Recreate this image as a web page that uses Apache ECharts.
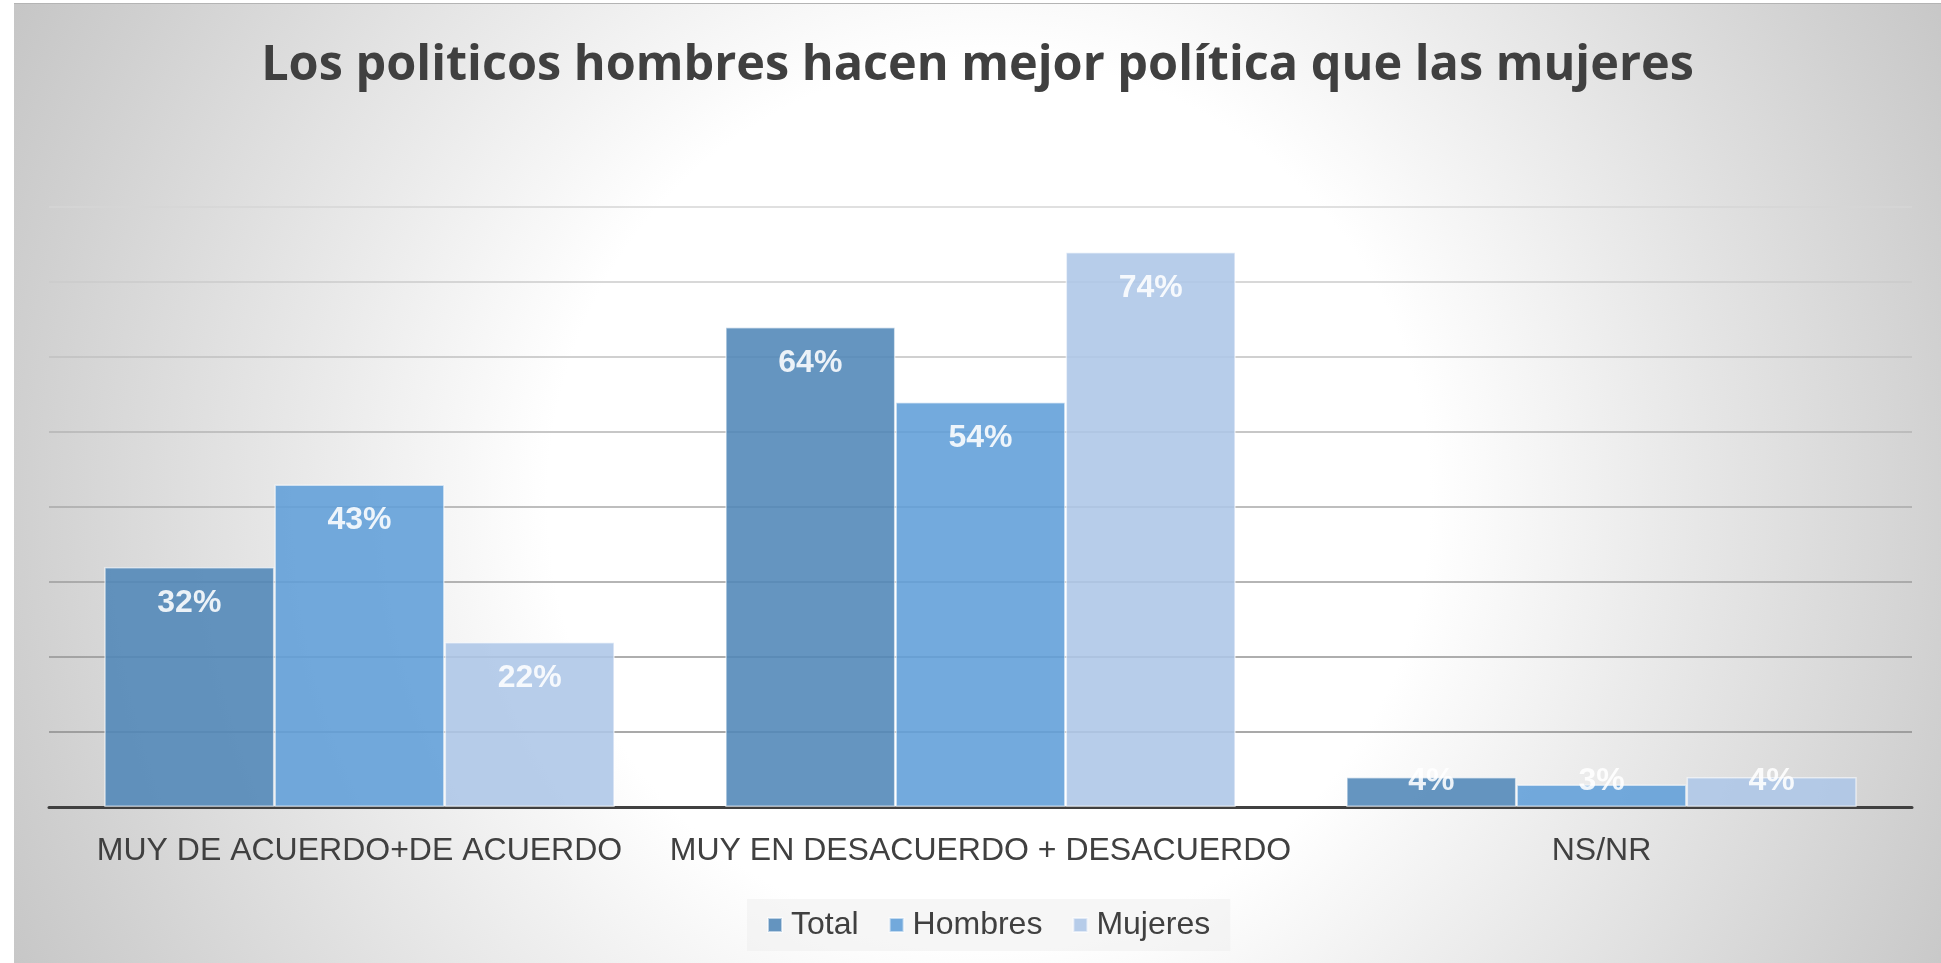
<!DOCTYPE html>
<html>
<head>
<meta charset="utf-8">
<script src="https://cdn.jsdelivr.net/npm/echarts@6/dist/echarts.min.js"></script>
<style>
  html, body { margin: 0; padding: 0; background: #ffffff; }
  #frame {
    position: absolute; left: 14px; top: 3px; width: 1927px; height: 960px;
    border-top: 1px solid #b4b4b4; box-sizing: border-box;
  }
  #chart { width: 100%; height: 100%; }
</style>
</head>
<body>
<div id="frame"><div id="chart"></div></div>
<script>
// Survey answers, in percent
const titleText = 'Los politicos hombres hacen mejor política que las mujeres';
const categories = ['MUY DE ACUERDO+DE ACUERDO', 'MUY EN DESACUERDO + DESACUERDO', 'NS/NR'];
const seriesNames = ['Total', 'Hombres', 'Mujeres'];
const totalValues = [32, 64, 4];
const hombresValues = [43, 54, 3];
const mujeresValues = [22, 74, 4];
const seriesColors = ['#5086b7', '#609ed8', '#adc6e7'];

// Gridlines fade toward the top of the plot (0 .. 80)
const gridColors = ['#808080', '#8c8c8c', '#939393', '#9c9c9c', '#a8a8a8', '#b4b4b4', '#c0c0c0', '#cbcbcb', '#d6d6d6'];

const valueSets = [totalValues, hombresValues, mujeresValues];

// Short bars carry their label just above the baseline instead of under the bar top
function toItems(values) {
  return values.map(v => v < 10
    ? { value: v, label: { position: 'insideBottom', distance: 10 } }
    : { value: v });
}

const chart = echarts.init(document.getElementById('chart'), null, { renderer: 'canvas' });

chart.setOption({
  // White core in the middle of the panel, greying toward the edges
  backgroundColor: {
    type: 'radial', x: 0.506, y: 0.517, r: 1.15,
    colorStops: [
      { offset: 0, color: '#ffffff' },
      { offset: 0.4, color: '#ffffff' },
      { offset: 0.6, color: '#ebebeb' },
      { offset: 0.88, color: '#d0d0d0' },
      { offset: 1, color: '#c5c5c5' }
    ]
  },
  animation: false,
  title: {
    text: titleText,
    left: 'center',
    top: 30,
    textStyle: {
      fontFamily: 'Open Sans', fontWeight: 'bold', fontSize: 48.6,
      color: '#404040', lineHeight: 54
    }
  },
  legend: {
    data: seriesNames,
    left: 733,
    top: 895,
    itemWidth: 14, itemHeight: 14, itemGap: 30,
    icon: 'rect',
    padding: [10, 20],
    backgroundColor: 'rgba(238,238,238,0.55)',
    textStyle: { fontFamily: 'Liberation Sans', fontSize: 32, color: '#404040', padding: [0, 0, 0, 4] }
  },
  grid: { left: 35, right: 29, top: 203, bottom: 156, containLabel: false },
  xAxis: {
    type: 'category',
    data: categories,
    axisLine: { lineStyle: { color: '#404040', width: 3 } },
    axisTick: { show: false },
    axisLabel: { interval: 0, fontFamily: 'Liberation Sans', fontSize: 32, color: '#404040', margin: 28 }
  },
  yAxis: {
    type: 'value',
    min: 0, max: 80, interval: 10,
    axisLine: { show: false },
    axisTick: { show: false },
    axisLabel: { show: false },
    splitLine: { lineStyle: { color: gridColors, width: 1.5 } }
  },
  series: seriesNames.map((name, i) => ({
    name: name,
    type: 'bar',
    data: toItems(valueSets[i]),
    barGap: '0%',
    barCategoryGap: '17.8%',
    itemStyle: {
      color: seriesColors[i],
      opacity: 0.88,
      borderColor: 'rgba(255,255,255,0.65)',
      borderWidth: 1.5
    },
    label: {
      show: true,
      position: 'insideTop',
      distance: 20,
      formatter: '{c}%',
      fontFamily: 'Liberation Sans', fontWeight: 'bold', fontSize: 32,
      color: '#ffffff'
    }
  }))
});
</script>
</body>
</html>
